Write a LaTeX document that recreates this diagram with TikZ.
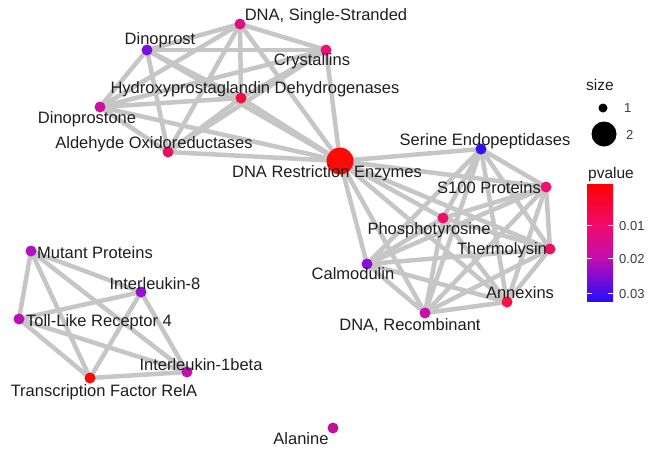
\documentclass[tikz,border=0pt]{standalone}
\usepackage{fontspec}
\setmainfont{Liberation Sans}
\usetikzlibrary{backgrounds}
\definecolor{edgegray}{RGB}{198,198,198}
\definecolor{txt}{RGB}{30,30,30}
\definecolor{legtxt}{RGB}{60,60,60}
\definecolor{cSS}{RGB}{222,16,128}
\definecolor{cDP}{RGB}{122,16,224}
\definecolor{cCR}{RGB}{232,16,122}
\definecolor{cHY}{RGB}{240,16,58}
\definecolor{cDPE}{RGB}{204,16,160}
\definecolor{cAL}{RGB}{232,16,96}
\definecolor{cRE}{RGB}{255,8,8}
\definecolor{cSE}{RGB}{48,16,240}
\definecolor{cS1}{RGB}{240,16,112}
\definecolor{cPH}{RGB}{232,16,106}
\definecolor{cTH}{RGB}{240,16,90}
\definecolor{cCA}{RGB}{138,16,216}
\definecolor{cAN}{RGB}{255,16,64}
\definecolor{cREC}{RGB}{200,16,168}
\definecolor{cMU}{RGB}{176,16,192}
\definecolor{cIL8}{RGB}{154,16,208}
\definecolor{cTLR}{RGB}{184,16,184}
\definecolor{cIL1}{RGB}{192,16,176}
\definecolor{cREL}{RGB}{255,8,8}
\definecolor{cALA}{RGB}{192,16,160}
\definecolor{barA}{RGB}{255,0,0}
\definecolor{barB}{RGB}{238,12,108}
\definecolor{barC}{RGB}{196,12,176}
\definecolor{barD}{RGB}{40,12,250}
\begin{document}
\begin{tikzpicture}[x=1pt,y=-1pt,
  vtx/.style={circle,inner sep=0pt,minimum size=11pt},
  bigvtx/.style={circle,inner sep=0pt,minimum size=27pt},
  lab/.style={anchor=base,inner sep=0pt,text=txt,font=\fontsize{16.5}{18}\selectfont},
  legtitle/.style={anchor=base,inner sep=0pt,text=txt,font=\fontsize{15.5}{17}\selectfont},
  legtick/.style={anchor=base west,inner sep=0pt,text=legtxt,font=\fontsize{13}{15}\selectfont},
  con/.style={draw=edgegray,line width=4.5pt},
  tickmark/.style={draw=white,line width=0.8pt}]
\useasboundingbox (0,0) rectangle (649,448);
% nodes
\node[vtx,fill=cSS] (ss) at (240,24) {};
\node[vtx,fill=cDP] (dp) at (147,50) {};
\node[vtx,fill=cCR] (cr) at (326,50) {};
\node[vtx,fill=cHY] (hy) at (241,98) {};
\node[vtx,fill=cDPE] (dpe) at (100,107) {};
\node[vtx,fill=cAL] (al) at (168,152) {};
\node[bigvtx,fill=cRE] (re) at (340,161) {};
\node[vtx,fill=cSE] (se) at (481,149) {};
\node[vtx,fill=cS1] (s1) at (546,187) {};
\node[vtx,fill=cPH] (ph) at (443,218) {};
\node[vtx,fill=cTH] (th) at (550,249) {};
\node[vtx,fill=cCA] (ca) at (367,264) {};
\node[vtx,fill=cAN] (an) at (507,302) {};
\node[vtx,fill=cREC] (rec) at (425,313) {};
\node[vtx,fill=cMU] (mu) at (31,251) {};
\node[vtx,fill=cIL8] (il8) at (141,292) {};
\node[vtx,fill=cTLR] (tlr) at (19,319) {};
\node[vtx,fill=cIL1] (il1) at (187,372) {};
\node[vtx,fill=cREL] (rel) at (90,378) {};
\node[vtx,fill=cALA] (ala) at (333,428) {};
% edges
\begin{pgfonlayer}{background}
\fill[white] (0,0) rectangle (649,448);
\foreach \a/\b in {ss/dp,ss/cr,ss/hy,ss/dpe,ss/al,ss/re,
                   dp/cr,dp/hy,dp/dpe,dp/al,dp/re,
                   cr/hy,cr/dpe,cr/al,cr/re,
                   hy/dpe,hy/al,hy/re,
                   dpe/al,dpe/re,al/re,
                   re/se,re/s1,re/ph,re/th,re/ca,re/an,re/rec,
                   se/s1,se/ph,se/th,se/ca,se/an,se/rec,
                   s1/ph,s1/th,s1/ca,s1/an,s1/rec,
                   ph/th,ph/ca,ph/an,ph/rec,
                   th/ca,th/an,th/rec,
                   ca/an,ca/rec,an/rec,
                   mu/il8,mu/tlr,mu/il1,mu/rel,
                   il8/tlr,il8/il1,il8/rel,
                   tlr/il1,tlr/rel,il1/rel}
  \draw[con] (\a.center) -- (\b.center);
\end{pgfonlayer}
% labels
\node[lab] (lss) at (326,20) {DNA, Single-Stranded};
\node[lab] (ldp) at (160,44) {Dinoprost};
\node[lab] (lcr) at (312,65) {Crystallins};
\node[lab] (lhy) at (255,93) {Hydroxyprostaglandin Dehydrogenases};
\node[lab] (ldpe) at (87,123) {Dinoprostone};
\node[lab] (lal) at (154,148) {Aldehyde Oxidoreductases};
\node[lab] (lre) at (327,177) {DNA Restriction Enzymes};
\node[lab] (lse) at (485,145) {Serine Endopeptidases};
\node[lab] (ls1) at (489,193) {S100 Proteins};
\node[lab] (lph) at (429,234) {Phosphotyrosine};
\node[lab] (lth) at (502,254) {Thermolysin};
\node[lab] (lca) at (353,279) {Calmodulin};
\node[lab] (lan) at (520,298) {Annexins};
\node[lab] (lrec) at (410,330) {DNA, Recombinant};
\node[lab] (lmu) at (95,258) {Mutant Proteins};
\node[lab] (lil8) at (155,289) {Interleukin-8};
\node[lab] (ltlr) at (99,326) {Toll-Like Receptor 4};
\node[lab] (lil1) at (201,370) {Interleukin-1beta};
\node[lab] (lrel) at (104,396) {Transcription Factor RelA};
\node[lab] (lala) at (301,444) {Alanine};
% legend: size
\node[legtitle] (lsize) at (600,90) {size};
\node[circle,fill=black,inner sep=0pt,minimum size=9pt] (sz1) at (603,108) {};
\node[legtick] (lsz1) at (624,112) {1};
\node[circle,fill=black,inner sep=0pt,minimum size=25pt] (sz2) at (604,134) {};
\node[legtick] (lsz2) at (626,139) {2};
% legend: pvalue
\node[legtitle] (lpv) at (611,178) {pvalue};
\shade[top color=barA,bottom color=barB] (587,184) rectangle (613,225.5);
\shade[top color=barB,bottom color=barC] (587,225) rectangle (613,258.5);
\shade[top color=barC,bottom color=barD] (587,258) rectangle (613,301);
\foreach \yy in {225,258,293} {
  \draw[tickmark] (587,\yy) -- (592,\yy);
  \draw[tickmark] (608,\yy) -- (613,\yy);
}
\node[legtick] (t1) at (619,230) {0.01};
\node[legtick] (t2) at (619,263) {0.02};
\node[legtick] (t3) at (619,298) {0.03};
\end{tikzpicture}
\end{document}
